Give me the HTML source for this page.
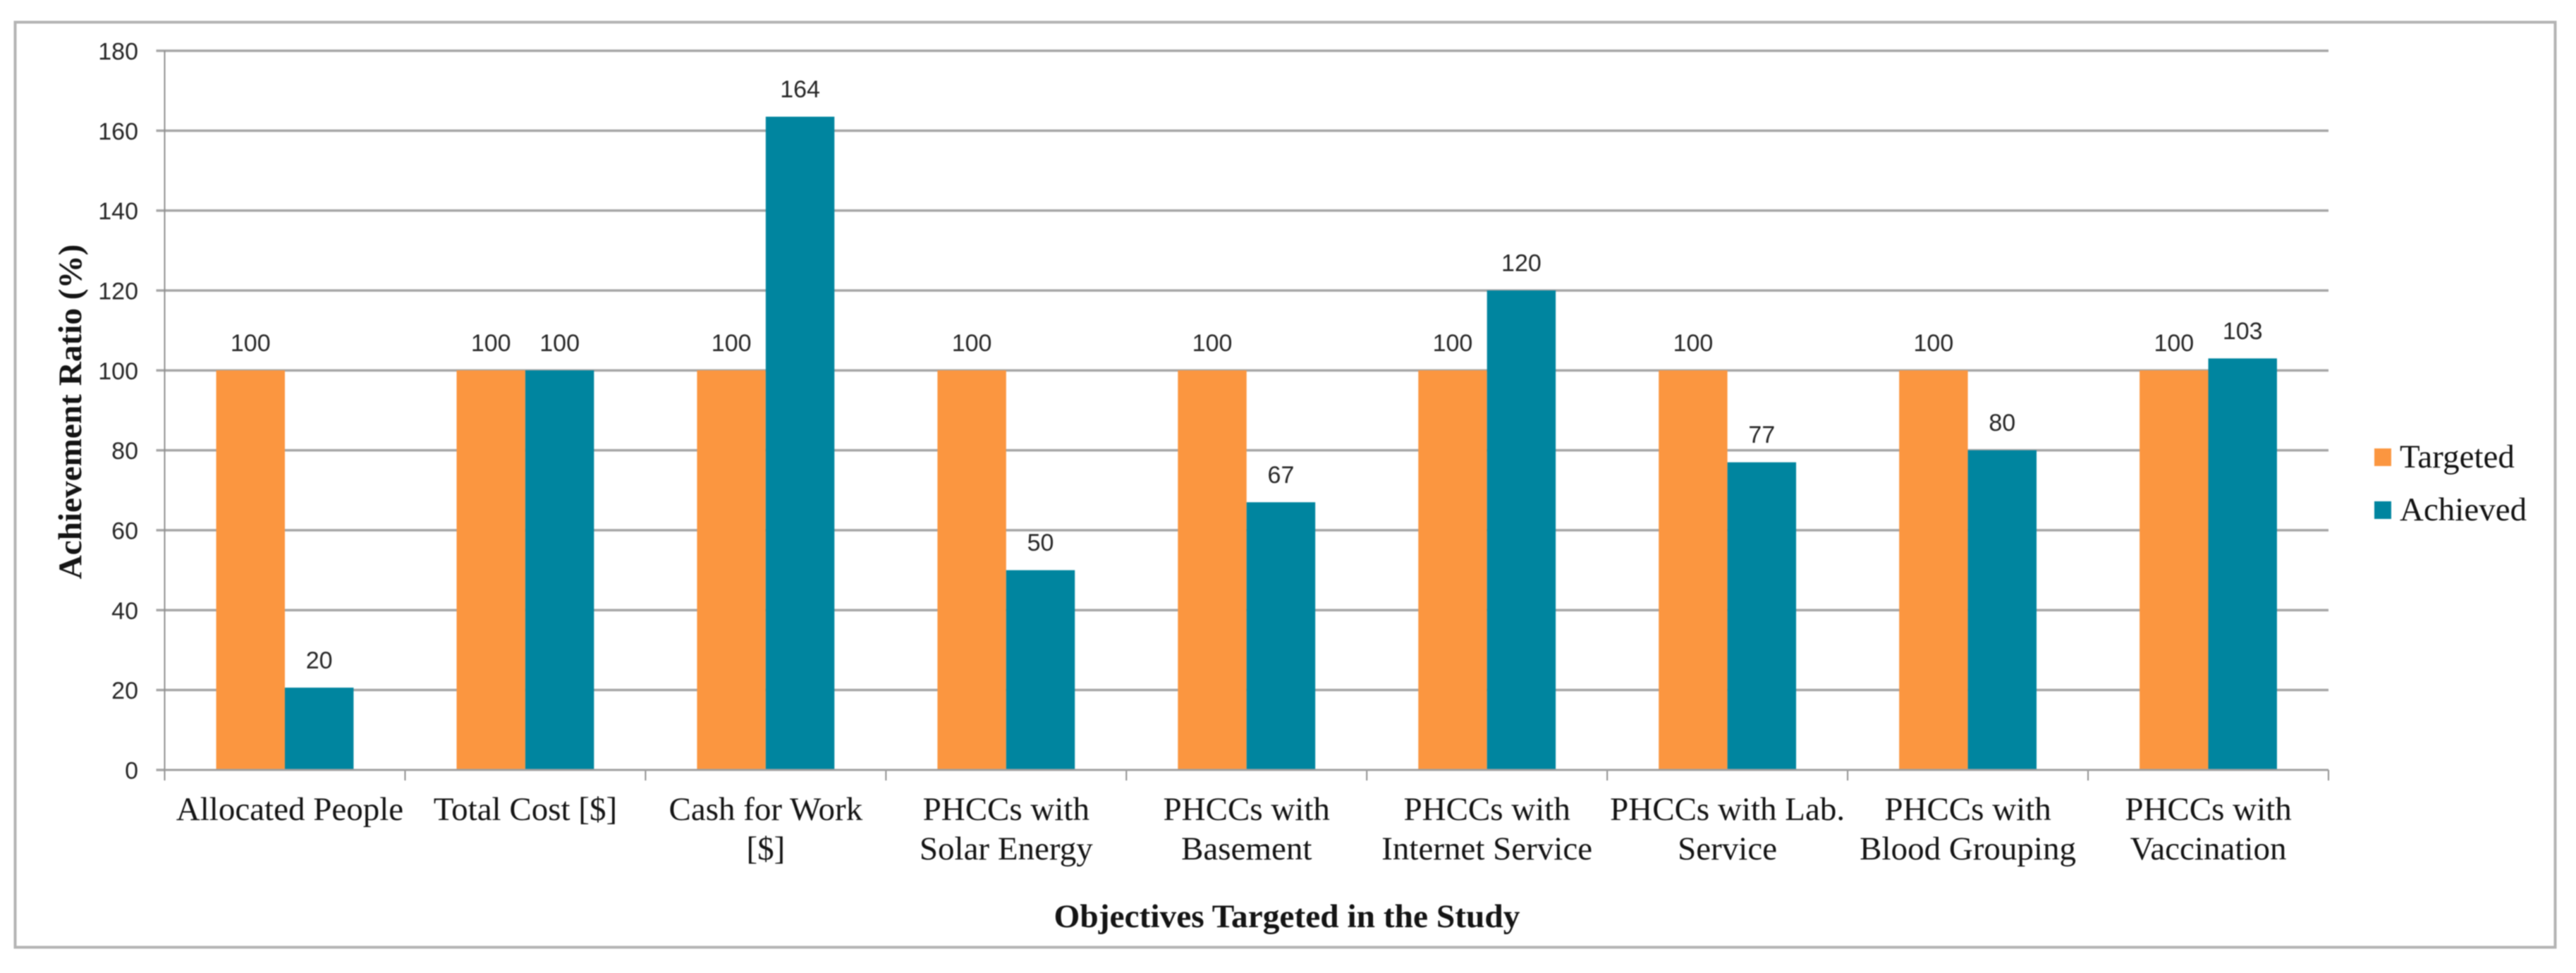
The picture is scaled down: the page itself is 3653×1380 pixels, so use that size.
<!DOCTYPE html>
<html lang="en">
<head>
<meta charset="utf-8">
<title>Achievement Ratio by Objective</title>
<style>
  html, body { margin: 0; padding: 0; background: #fff; }
  #chart { display: block; width: 3653px; height: 1380px; filter: blur(0.8px); }
  .serif { font-family: "Liberation Serif", serif; fill: #141414; }
  .sans { font-family: "Liberation Sans", sans-serif; fill: #262626; }
</style>
</head>
<body>
<svg id="chart" xmlns="http://www.w3.org/2000/svg" width="3653" height="1380" viewBox="0 0 3653 1380">
  <rect x="21.5" y="31.5" width="3602" height="1312" fill="#fff" stroke="#b4b4b4" stroke-width="4"/>
  <g id="grid"></g>
  <g id="bars"></g>
  <g id="axes"></g>
  <g id="labels"></g>
  <text class="serif" font-weight="bold" font-size="47" text-anchor="middle" textLength="475" lengthAdjust="spacingAndGlyphs" transform="translate(115 584) rotate(-90)">Achievement Ratio (%)</text>
  <text class="serif" font-weight="bold" font-size="47" text-anchor="middle" textLength="661" lengthAdjust="spacingAndGlyphs" x="1825" y="1315">Objectives Targeted in the Study</text>
  <g>
    <g>
      <rect x="3367" y="636" width="24" height="25" fill="#fb9640"/>
      <text class="serif" font-size="47" x="3403" y="663">Targeted</text>
    </g>
    <g>
      <rect x="3367" y="711" width="24" height="25" fill="#00859f"/>
      <text class="serif" font-size="47" x="3403" y="738">Achieved</text>
    </g>
  </g>
</svg>
<script>
const categories = [
  ["Allocated People"],
  ["Total Cost [$]"],
  ["Cash for Work", "[$]"],
  ["PHCCs with", "Solar Energy"],
  ["PHCCs with", "Basement"],
  ["PHCCs with", "Internet Service"],
  ["PHCCs with Lab.", "Service"],
  ["PHCCs with", "Blood Grouping"],
  ["PHCCs with", "Vaccination"]
];
const targeted = [100, 100, 100, 100, 100, 100, 100, 100, 100];
const achieved = [20.6, 100, 163.5, 50, 67, 120, 77, 80, 103];
const targetedLabels = [100, 100, 100, 100, 100, 100, 100, 100, 100];
const achievedLabels = [20, 100, 164, 50, 67, 120, 77, 80, 103];
const yTicks = [0, 20, 40, 60, 80, 100, 120, 140, 160, 180];

const NS = 'http://www.w3.org/2000/svg';
const plotLeft = 233.5, plotRight = 3302, plotTop = 72, plotBottom = 1092;
const firstLabelNudge = 7;
const yMax = yTicks[yTicks.length - 1];
const catWidth = (plotRight - plotLeft) / categories.length;
const barWidth = catWidth * 2 / 7;
const barGap = catWidth * 1.5 / 7;
const yScale = v => plotBottom - (v / yMax) * (plotBottom - plotTop);
const catX = i => plotLeft + i * catWidth;

function make(parent, tag, attrs, text) {
  const el = document.createElementNS(NS, tag);
  for (const k in attrs) el.setAttribute(k, attrs[k]);
  if (text !== undefined) el.textContent = text;
  parent.appendChild(el);
  return el;
}

const gridG = document.getElementById('grid');
const barsG = document.getElementById('bars');
const axesG = document.getElementById('axes');
const labelsG = document.getElementById('labels');

yTicks.forEach(t => {
  const y = yScale(t);
  if (t !== 0) {
    const line = make(gridG, 'line', { x1: plotLeft, x2: plotRight, y1: y, y2: y, stroke: '#a6a6a6', 'stroke-width': 3.5 });
    
    
  }
  const tick = make(axesG, 'line', { x1: plotLeft - 12, x2: plotLeft, y1: y, y2: y, stroke: '#a6a6a6', 'stroke-width': 3.5 });
  
  
  const lab = make(labelsG, 'text', { class: 'sans', 'font-size': 34, 'text-anchor': 'end', x: 196, y: y + 12.5 }, String(t));
  
  
});

categories.forEach((lines, i) => {
  const x0 = catX(i) + barGap;
  const t = make(barsG, 'rect', { x: x0, y: yScale(targeted[i]), width: barWidth, height: plotBottom - yScale(targeted[i]), fill: '#fb9640' });
  
  
  const a = make(barsG, 'rect', { x: x0 + barWidth, y: yScale(achieved[i]), width: barWidth, height: plotBottom - yScale(achieved[i]), fill: '#00859f' });
  
  

  const tl = make(labelsG, 'text', { class: 'sans', 'font-size': 34, 'text-anchor': 'middle', x: x0 + barWidth / 2, y: yScale(targeted[i]) - 27.5 }, String(targetedLabels[i]));
  
  
  const al = make(labelsG, 'text', { class: 'sans', 'font-size': 34, 'text-anchor': 'middle', x: x0 + barWidth * 1.5, y: yScale(achieved[i]) - 27.5 }, String(achievedLabels[i]));
  
  

  lines.forEach((ln, j) => {
    const nudge = i === 0 ? firstLabelNudge : 0;
    const c = make(labelsG, 'text', { class: 'serif', 'font-size': 47, 'text-anchor': 'middle', x: catX(i) + catWidth / 2 + nudge, y: 1163 + j * 56 }, ln);
    
    
  });
});

for (let i = 0; i <= categories.length; i++) {
  const tick = make(axesG, 'line', { x1: catX(i), x2: catX(i), y1: plotBottom, y2: plotBottom + 15, stroke: '#8f8f8f', 'stroke-width': 2 });
  
  
}

const yAxis = make(axesG, 'line', { x1: plotLeft, x2: plotLeft, y1: plotTop, y2: plotBottom, stroke: '#8f8f8f', 'stroke-width': 2 });


const xAxis = make(axesG, 'line', { x1: plotLeft, x2: plotRight, y1: plotBottom, y2: plotBottom, stroke: '#a0a0a0', 'stroke-width': 3 });


</script>
</body>
</html>
